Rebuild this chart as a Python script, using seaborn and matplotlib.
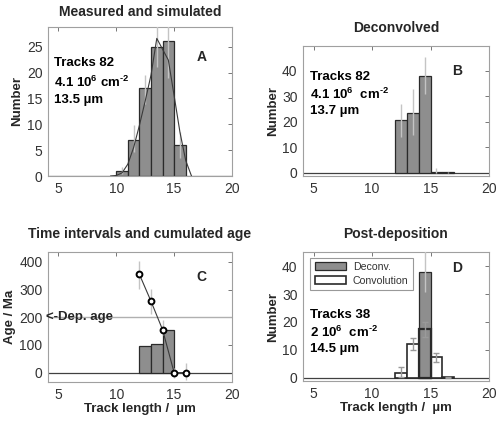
import matplotlib
matplotlib.use("Agg")
import matplotlib.pyplot as plt
from matplotlib.patches import Patch
import seaborn as sns

sns.set_style("white")
plt.rcParams['font.family'] = ['Liberation Sans', 'DejaVu Sans']
plt.rcParams['mathtext.fontset'] = 'custom'
plt.rcParams['mathtext.rm'] = 'Liberation Sans:bold'
plt.rcParams['mathtext.it'] = 'Liberation Sans:bold'
plt.rcParams['mathtext.bf'] = 'Liberation Sans:bold'

# ---- data ----
# A: measured and simulated
a_pos = [10.5, 11.5, 12.5, 13.5, 14.5, 15.5]
a_count = [1, 7, 17, 25, 26, 6]
a_lo = [0.3, 4.7, 14, 21, 19, 3.5]
a_hi = [1.8, 9.8, 19.5, 29.5, 29.5, 8.5]
sim_x = [9.5, 10, 10.5, 11, 11.5, 12, 12.5, 13, 13.5, 14, 14.5, 15, 15.5, 16, 16.5]
sim_y = [0, 0.1, 0.6, 2.3, 5.5, 9.8, 14.5, 19.5, 26.6, 24.5, 22.4, 15.5, 8.5, 3, 0]

# B: deconvolved
b_pos = [12.5, 13.5, 14.5, 15.5, 16.5]
b_count = [20.5, 23.5, 38, 0.4, 0.1]
b_lo = [14, 14.8, 31, 0, 0]
b_hi = [27, 33, 45.4, 2, 0.2]

# C: time intervals and cumulated age
c_pos = [12.5, 13.5, 14.5]
c_dt = [95, 102, 155]
c_x = [12, 13, 14, 15, 16]
c_age = [355, 258, 155, 0, 0]
c_lo = [303, 213, 135, -20, -28]
c_hi = [404, 303, 189, 16, 33]
dep_age = 200

# D: post-deposition
d_pos = [14.5]
d_dec = [38]
d_dec_lo = [30.7]
d_dec_hi = [46]
d_conv_pos = [12.5, 13.5, 14.5, 15.5, 16.5]
d_conv = [1.5, 12, 17.5, 7.5, 0.2]
d_conv_lo = [0.4, 9.9, 14.7, 5.7, 0]
d_conv_hi = [4, 14.1, 20, 8.7, 0.4]

xticks = [5, 10, 15, 20]

BAR = '#8e8e8e'
EDGE = '#2a2a2a'
ERR = '#c4c4c4'
SPINE = '#a0a0a0'
HY = '\u2010'  # plain hyphen for the exponent

fig = plt.figure(figsize=(5.0, 4.23), dpi=100)
W, H = 500.0, 423.0


def box(l, t, r, b):
    return fig.add_axes([l / W, 1 - b / H, (r - l) / W, (b - t) / H])


def style(ax, ylim, yticks):
    ax.set_xlim(4.1, 20)
    ax.set_ylim(*ylim)
    ax.set_xticks(xticks)
    ax.set_yticks(yticks)
    ax.set_xticklabels([str(t) for t in xticks])
    ax.set_yticklabels([str(t) for t in yticks])
    for s in ax.spines.values():
        s.set_color(SPINE)
        s.set_linewidth(0.8)
    ax.tick_params(axis='both', direction='in', top=True, right=True,
                   length=3, width=0.6, color='#606060', labelsize=10,
                   labelcolor='#333333', pad=4)
    ax.set_xlabel('')
    ax.set_ylabel('')


def txt(ax, x, y, s, size=9.5):
    ax.text(x, y, s, transform=ax.transAxes, fontsize=size, fontweight='bold',
            ha='left', va='center', color='black')


# ---- A ----
ax1 = box(48, 27, 232, 176)
ax1.axhline(0, color='#404040', lw=0.9, zorder=1)
sns.barplot(x=a_pos, y=a_count, native_scale=True, width=1, color=BAR,
            saturation=1, edgecolor=EDGE, linewidth=0.9, errorbar=None, ax=ax1)
ax1.vlines(a_pos, a_lo, a_hi, color=ERR, lw=1, zorder=5)
sns.lineplot(x=sim_x, y=sim_y, color='#3a3a3a', lw=0.8, ax=ax1, zorder=6)
style(ax1, (0, 28.8), [0, 5, 10, 15, 20, 25])
ax1.set_ylabel('Number', fontsize=9.5, fontweight='bold', labelpad=3)
ax1.set_title('Measured and simulated', fontsize=10, fontweight='bold', pad=8)
txt(ax1, 0.03, 0.76, 'Tracks 82')
txt(ax1, 0.03, 0.63, '4.1 10$^6$ cm$^{' + HY + '2}$')
txt(ax1, 0.03, 0.51, '13.5 µm')
ax1.text(0.835, 0.80, 'A', transform=ax1.transAxes, fontsize=10,
         fontweight='bold', ha='center', va='center')

# ---- B ----
ax2 = box(303, 46, 489, 176)
ax2.axhline(0, color='#404040', lw=0.9, zorder=1)
sns.barplot(x=b_pos, y=b_count, native_scale=True, width=1, color=BAR,
            saturation=1, edgecolor=EDGE, linewidth=0.9, errorbar=None, ax=ax2)
ax2.vlines(b_pos, b_lo, b_hi, color=ERR, lw=1, zorder=5)
style(ax2, (-1.3, 49.7), [0, 10, 20, 30, 40])
ax2.set_ylabel('Number', fontsize=9.5, fontweight='bold', labelpad=2)
ax2.set_title('Deconvolved', fontsize=10, fontweight='bold', pad=10)
txt(ax2, 0.035, 0.76, 'Tracks 82')
txt(ax2, 0.035, 0.63, '4.1 10$^6$  cm$^{' + HY + '2}$')
txt(ax2, 0.035, 0.50, '13.7 µm')
ax2.text(0.83, 0.81, 'B', transform=ax2.transAxes, fontsize=10,
         fontweight='bold', ha='center', va='center')

# ---- C ----
ax3 = box(48, 252, 232, 382)
ax3.axhline(0, color='#404040', lw=0.9, zorder=1)
ax3.axhline(dep_age, color='#b0b0b0', lw=1, zorder=1)
sns.barplot(x=c_pos, y=c_dt, native_scale=True, width=1, color=BAR,
            saturation=1, edgecolor=EDGE, linewidth=0.9, errorbar=None, ax=ax3)
ax3.vlines(c_x, c_lo, c_hi, color=ERR, lw=1, zorder=5)
sns.lineplot(x=c_x, y=c_age, color='#3a3a3a', lw=0.8, marker='o',
             markersize=4.2, markerfacecolor='white', markeredgecolor='black',
             markeredgewidth=1.4, ax=ax3, zorder=6)
style(ax3, (-34, 436), [0, 100, 200, 300, 400])
ax3.set_ylabel('Age / Ma', fontsize=9.5, fontweight='bold', labelpad=2)
ax3.set_xlabel('Track length /  µm', fontsize=9.5, fontweight='bold', labelpad=1)
ax3.set_title('Time intervals and cumulated age', fontsize=10,
              fontweight='bold', pad=10)
ax3.text(-0.01, dep_age, '<-Dep. age', transform=ax3.get_yaxis_transform(),
         fontsize=9.5, fontweight='bold', ha='left', va='center')
ax3.text(0.835, 0.81, 'C', transform=ax3.transAxes, fontsize=10,
         fontweight='bold', ha='center', va='center')

# ---- D ----
ax4 = box(303, 252, 489, 381)
ax4.axhline(0, color='#404040', lw=0.9, zorder=1)
sns.barplot(x=d_conv_pos, y=d_conv, native_scale=True, width=1, color='white',
            saturation=1, edgecolor=EDGE, linewidth=1.2, errorbar=None, ax=ax4)
sns.barplot(x=d_pos, y=d_dec, native_scale=True, width=1, color=BAR,
            saturation=1, edgecolor=EDGE, linewidth=0.9, errorbar=None, ax=ax4)
# conv outline over the deconvolved bar
for p, v in zip(d_conv_pos, d_conv):
    if p in d_pos:
        ax4.bar(p, v, width=1, fill=False, edgecolor=EDGE, linewidth=1.6, zorder=4)
ax4.vlines(d_pos, d_dec_lo, d_dec_hi, color=ERR, lw=1, zorder=5)
ax4.errorbar(d_conv_pos, d_conv,
             yerr=[[v - l for v, l in zip(d_conv, d_conv_lo)],
                   [h - v for v, h in zip(d_conv, d_conv_hi)]],
             fmt='none', ecolor='#9a9a9a', elinewidth=1, capsize=2, zorder=6)
style(ax4, (-1.2, 45.1), [0, 10, 20, 30, 40])
ax4.set_ylabel('Number', fontsize=9.5, fontweight='bold', labelpad=2)
ax4.set_xlabel('Track length /  µm', fontsize=9.5, fontweight='bold', labelpad=1)
ax4.set_title('Post-deposition', fontsize=10, fontweight='bold', pad=10)
txt(ax4, 0.035, 0.51, 'Tracks 38')
txt(ax4, 0.035, 0.375, '2 10$^6$  cm$^{' + HY + '2}$')
txt(ax4, 0.035, 0.245, '14.5 µm')
ax4.text(0.83, 0.875, 'D', transform=ax4.transAxes, fontsize=10,
         fontweight='bold', ha='center', va='center')
handles = [Patch(facecolor=BAR, edgecolor=EDGE, lw=0.9, label='Deconv.'),
           Patch(facecolor='white', edgecolor=EDGE, lw=1.2, label='Convolution')]
leg = ax4.legend(handles=handles, loc='upper left', bbox_to_anchor=(0.04, 0.955),
                 fontsize=7.6, frameon=True, fancybox=False, handlelength=3.0,
                 handleheight=0.8, borderpad=0.4, labelspacing=0.35,
                 handletextpad=0.6, borderaxespad=0)
leg.get_frame().set_edgecolor('#808080')
leg.get_frame().set_linewidth(0.8)
for t in leg.get_texts():
    t.set_color('#333333')

fig.savefig('out.png', dpi=100)
